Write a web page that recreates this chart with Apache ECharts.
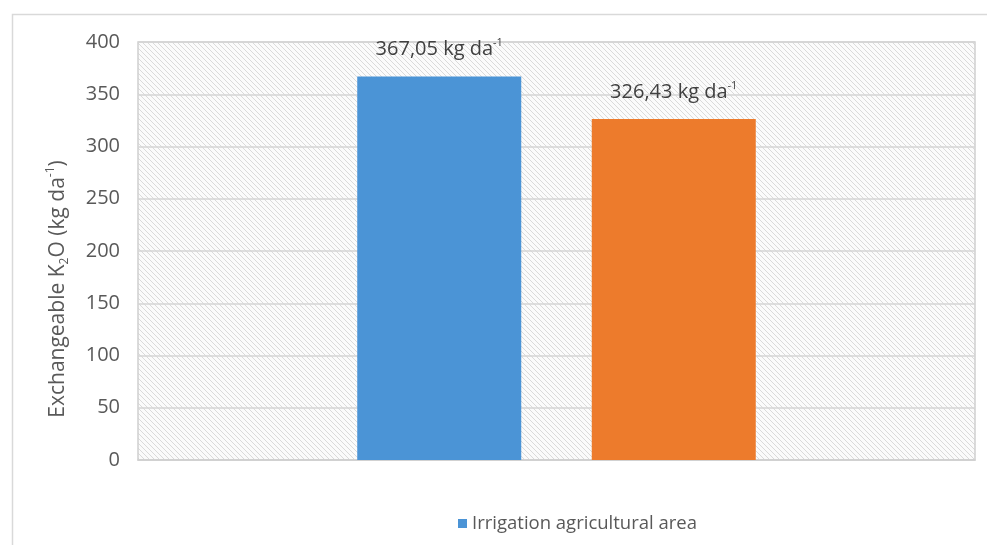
<!DOCTYPE html>
<html>
<head>
<meta charset="utf-8">
<script src="https://cdn.jsdelivr.net/npm/echarts@6/dist/echarts.min.js"></script>
<style>
html,body{margin:0;padding:0;background:#fff;}
#chart{width:987px;height:545px;}
</style>
</head>
<body>
<div id="chart"></div>
<script>
const categories = ['Area'];
const seriesNames = ['Irrigation agricultural area', 'Non-irrigation agricultural area'];
const irrigationValues = [367.05];
const nonIrrigationValues = [326.43];
const yTicks = [0, 50, 100, 150, 200, 250, 300, 350, 400];

function hatch() {
  const c = document.createElement('canvas');
  c.width = 5; c.height = 5;
  const g = c.getContext('2d');
  g.fillStyle = '#fbfbfb';
  g.fillRect(0, 0, 5, 5);
  g.strokeStyle = '#dadada';
  g.lineWidth = 1;
  g.beginPath();
  g.moveTo(-1, -1); g.lineTo(6, 6);
  g.moveTo(-1, 4); g.lineTo(1, 6);
  g.moveTo(4, -1); g.lineTo(6, 1);
  g.stroke();
  return { image: c, repeat: 'repeat' };
}

const font = '"Open Sans", "DejaVu Sans", sans-serif';
const labelRich = {
  m: { fontFamily: font, fontSize: 20, color: '#404040', lineHeight: 24 },
  s: { fontFamily: font, fontSize: 11, color: '#404040', verticalAlign: 'top', lineHeight: 14 }
};
const fmt = p => '{m|' + p.value.toFixed(2).replace('.', ',') + ' kg da}{s|-1}';

const chart = echarts.init(document.getElementById('chart'));
chart.setOption({
  animation: false,
  backgroundColor: '#fff',
  graphic: [{
    type: 'rect', left: 10, top: 12, silent: true,
    shape: { width: 1100, height: 700 },
    style: { fill: 'none', stroke: '#d9d9d9', lineWidth: 1.5 }
  }],
  grid: {
    left: 138, right: 12, top: 42, bottom: 85,
    show: true, backgroundColor: hatch(), borderColor: '#d0d0d0', borderWidth: 1.5
  },
  legend: {
    data: [seriesNames[0]],
    left: 453, top: 509,
    itemWidth: 9, itemHeight: 9, itemGap: 10,
    icon: 'rect',
    textStyle: { fontFamily: font, fontSize: 18.5, color: '#595959' }
  },
  xAxis: {
    type: 'category', data: categories,
    axisLine: { lineStyle: { color: '#cfcfcf', width: 1.5 } },
    axisTick: { show: false }, axisLabel: { show: false }
  },
  yAxis: {
    type: 'value', min: yTicks[0], max: yTicks[yTicks.length - 1], interval: 50,
    name: 'Exchangeable K{sub|2}O (kg da{sup|-1})',
    nameLocation: 'middle', nameGap: 67, nameRotate: 90,
    nameTextStyle: {
      fontFamily: font, fontSize: 21, color: '#595959', lineHeight: 26,
      padding: [0, 76, 0, 0],
      rich: {
        sub: { fontFamily: font, fontSize: 12, color: '#595959', verticalAlign: 'bottom', lineHeight: 15 },
        sup: { fontFamily: font, fontSize: 12, color: '#595959', verticalAlign: 'top', lineHeight: 15 }
      }
    },
    axisLine: { show: false }, axisTick: { show: false },
    axisLabel: { fontFamily: font, fontSize: 20, color: '#595959', margin: 18 },
    splitLine: { lineStyle: { color: '#d4d4d4', width: 1.5 } }
  },
  series: [{
    name: seriesNames[0], type: 'bar', data: irrigationValues,
    barWidth: 164, barGap: '43%',
    itemStyle: { color: '#4b94d6' },
    label: { show: true, position: 'top', distance: 15, formatter: fmt, rich: labelRich }
  }, {
    name: seriesNames[1], type: 'bar', data: nonIrrigationValues,
    barWidth: 164,
    itemStyle: { color: '#ed7b2c' },
    label: { show: true, position: 'top', distance: 15, formatter: fmt, rich: labelRich }
  }]
});
</script>
</body>
</html>
